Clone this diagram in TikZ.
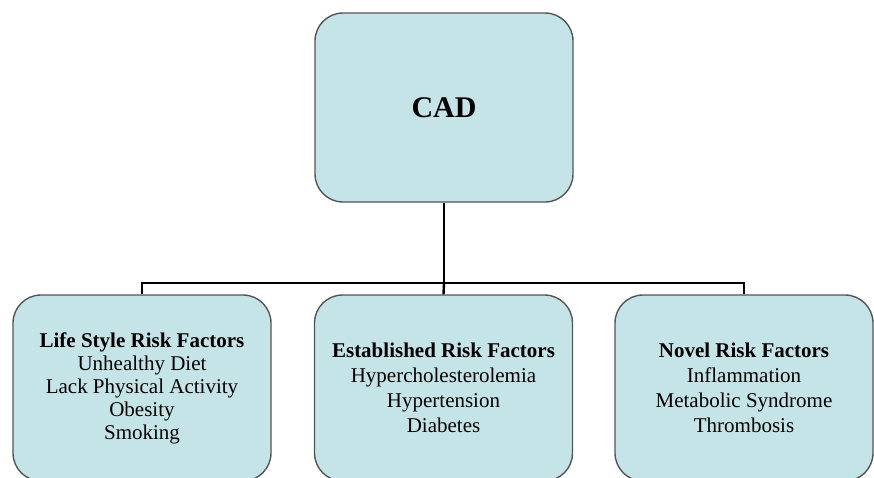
\documentclass[tikz,border=0pt]{standalone}
\usepackage{fontspec}
\setmainfont{Liberation Serif}
\definecolor{boxfill}{RGB}{197,228,232}
\definecolor{boxline}{RGB}{85,85,85}
\begin{document}
\begin{tikzpicture}[
  x=1pt, y=1pt,
  box/.style={rectangle, rounded corners=28pt, draw=boxline, fill=boxfill,
              line width=1.4pt, minimum width=258pt, align=center},
  top/.style={minimum height=189pt, font=\fontsize{30}{36}\selectfont\bfseries},
  risk/.style={minimum height=186pt, font=\fontsize{21}{25}\selectfont},
  link/.style={line width=2.4pt, draw=black}
]
\useasboundingbox (0,0) rectangle (874,-477);
\clip (0,0) rectangle (874,-477);

\node[box,top]  (cad)   at (444,-107.5) {CAD};
\node[box,risk] (life)  at (142,-388) {\textbf{Life Style Risk Factors}\\[-2pt]
  Unhealthy Diet\\[-2pt] Lack Physical Activity\\[-2pt] Obesity\\[-2pt] Smoking};
\node[box,risk] (est)   at (443.5,-388) {\textbf{Established Risk Factors}\\
  Hypercholesterolemia\\ Hypertension\\ Diabetes};
\node[box,risk] (novel) at (744,-388) {\textbf{Novel Risk Factors}\\
  Inflammation\\ Metabolic Syndrome\\ Thrombosis};

\coordinate (split) at (444,-283);
\draw[link] (cad.south) -- (split);
\draw[link] (split) -| (life.north);
\draw[link] (split) -- (est.north);
\draw[link] (split) -| (novel.north);
\end{tikzpicture}
\end{document}
